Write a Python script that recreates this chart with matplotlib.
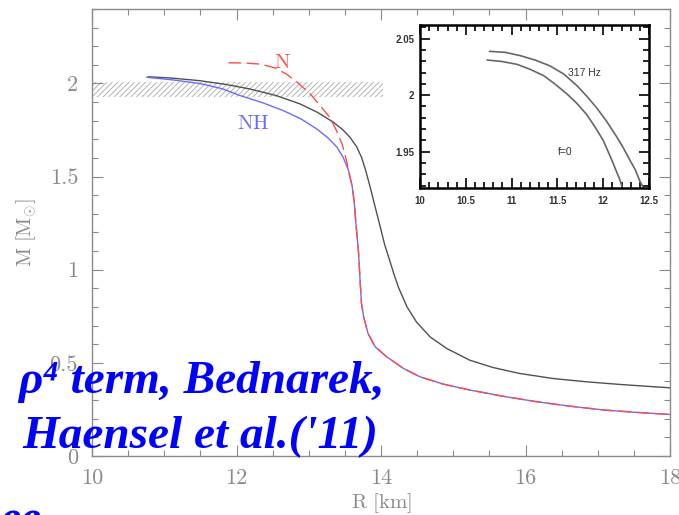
import matplotlib.pyplot as plt
from matplotlib.ticker import MultipleLocator, FormatStrFormatter

plt.rcParams["mathtext.fontset"] = "cm"
plt.rcParams["hatch.linewidth"] = 0.6

# main panel: mass-radius curves
black_r = [10.78, 11.10, 11.49, 11.85, 12.19, 12.55, 12.88, 13.12, 13.34, 13.47, 13.57,
           13.66, 13.73, 13.79, 13.85, 13.92, 13.99, 14.05, 14.12, 14.18, 14.24, 14.36,
           14.49, 14.68, 14.91, 15.23, 15.55, 15.92, 16.38, 16.85, 17.31, 17.65, 18.00]
black_m = [2.036, 2.029, 2.015, 1.995, 1.970, 1.935, 1.890, 1.845, 1.792, 1.752, 1.711,
           1.662, 1.604, 1.530, 1.443, 1.335, 1.229, 1.135, 1.050, 0.975, 0.907, 0.800,
           0.720, 0.639, 0.577, 0.514, 0.475, 0.443, 0.416, 0.398, 0.384, 0.375, 0.366]

nh_r = [10.76, 11.10, 11.49, 11.80, 12.05, 12.35, 12.65, 12.90, 13.11, 13.26, 13.39,
        13.48, 13.55, 13.60, 13.63, 13.65, 13.67, 13.69, 13.71, 13.73, 13.76, 13.82,
        13.92, 14.08, 14.31, 14.54, 14.86, 15.23, 15.70, 16.16, 16.60, 17.08, 17.50, 18.00]
nh_m = [2.033, 2.020, 2.000, 1.972, 1.935, 1.898, 1.854, 1.808, 1.756, 1.710, 1.658,
        1.600, 1.533, 1.450, 1.360, 1.260, 1.175, 1.086, 0.943, 0.818, 0.746, 0.658,
        0.586, 0.532, 0.470, 0.425, 0.386, 0.354, 0.320, 0.291, 0.268, 0.247, 0.235, 0.223]

n_r = [11.89, 12.10, 12.33, 12.52, 12.69, 12.86, 13.02, 13.16, 13.29, 13.38, 13.46,
       13.52, 13.57, 13.60, 13.63, 13.65, 13.67, 13.69, 13.71, 13.73, 13.76, 13.82,
       13.92, 14.08, 14.31, 14.54, 14.86, 15.23, 15.70, 16.16, 16.60, 17.08, 17.50, 18.00]
n_m = [2.111, 2.110, 2.104, 2.085, 2.051, 2.000, 1.944, 1.880, 1.818, 1.750, 1.676,
       1.590, 1.497, 1.450, 1.360, 1.260, 1.175, 1.086, 0.943, 0.818, 0.746, 0.658,
       0.586, 0.532, 0.470, 0.425, 0.386, 0.354, 0.320, 0.291, 0.268, 0.247, 0.235, 0.223]

# observed 1.97 +- 0.04 Msun band
band_lo, band_hi = 1.93, 2.01
band_r = [10.0, 14.03]

# inset: zoom on maximum mass
rot_r = [10.76, 10.93, 11.09, 11.26, 11.42, 11.57, 11.71, 11.82, 11.93, 12.04, 12.15,
         12.22, 12.29, 12.35, 12.40, 12.44]
rot_m = [2.0387, 2.0378, 2.0350, 2.0309, 2.0258, 2.0186, 2.0086, 1.9991, 1.9886, 1.9765,
         1.9628, 1.9533, 1.9427, 1.9340, 1.9240, 1.9180]
static_r = [10.735, 10.89, 11.06, 11.20, 11.35, 11.47, 11.60, 11.71, 11.82, 11.91, 12.00,
            12.09, 12.18, 12.21]
static_m = [2.0310, 2.0298, 2.0272, 2.0229, 2.0172, 2.0100, 2.0014, 1.9929, 1.9828, 1.9719,
            1.9600, 1.9433, 1.9255, 1.9180]

GREY = "#8a8a8a"

fig = plt.figure(figsize=(6.79, 5.15), dpi=100)
ax = fig.add_axes([0.1355, 0.1146, 0.8513, 0.8680])

ax.fill_between(band_r, band_lo, band_hi, facecolor="none", edgecolor="#a8a8a8",
                hatch="//////", linewidth=0)
ax.plot(black_r, black_m, color="#505050", lw=1.0)
ax.plot(nh_r, nh_m, color="#6a6aff", lw=1.0)
ax.plot(n_r, n_m, color="#ff4a4a", lw=1.0, dashes=(9, 4))

ax.text(12.63, 2.113, r"$\mathrm{N}$", color="#ff5050", fontsize=15, ha="center", va="center")
ax.text(12.23, 1.79, r"$\mathrm{NH}$", color="#6a6aff", fontsize=15, ha="center", va="center")

ax.set_xlim(10, 18)
ax.set_ylim(0, 2.4)
ax.xaxis.set_major_locator(MultipleLocator(2))
ax.xaxis.set_minor_locator(MultipleLocator(0.5))
ax.yaxis.set_major_locator(MultipleLocator(0.5))
ax.yaxis.set_minor_locator(MultipleLocator(0.1))
ax.yaxis.set_major_formatter(FormatStrFormatter("%g"))
ax.tick_params(which="both", direction="in", top=True, right=True, colors=GREY,
               width=0.8)
ax.tick_params(which="major", length=8)
ax.tick_params(which="minor", length=4)
ax.tick_params(axis="x", pad=9)
ax.tick_params(axis="y", pad=10)
for lab in ax.get_xticklabels() + ax.get_yticklabels():
    lab.set_fontfamily("cmr10")
    lab.set_fontsize(16)
    lab.set_color(GREY)
for s in ax.spines.values():
    s.set_color(GREY)
    s.set_linewidth(1.0)
ax.set_xlabel(r"$\mathrm{R\ [km]}$", fontsize=15, color=GREY, labelpad=2)
ax.set_ylabel(r"$\mathrm{M\ [M_{\odot}]}$", fontsize=15, color=GREY, labelpad=8)

# inset
ins = fig.add_axes([0.6186, 0.6350, 0.3373, 0.3165])
ins.plot(rot_r, rot_m, color="#666666", lw=1.2)
ins.plot(static_r, static_m, color="#666666", lw=1.2)
ins.text(11.80, 2.0195, "317 Hz", fontsize=7.5, color="#333333", ha="center", va="center",
         fontfamily="Liberation Sans")
ins.text(11.58, 1.950, "f=0", fontsize=7.5, color="#333333", ha="center", va="center",
         fontfamily="Liberation Sans")
ins.set_xlim(10, 12.5)
ins.set_ylim(1.918, 2.062)
ins.xaxis.set_major_locator(MultipleLocator(0.5))
ins.xaxis.set_minor_locator(MultipleLocator(0.1))
ins.yaxis.set_major_locator(MultipleLocator(0.05))
ins.yaxis.set_minor_locator(MultipleLocator(0.01))
ins.xaxis.set_major_formatter(FormatStrFormatter("%g"))
ins.yaxis.set_major_formatter(FormatStrFormatter("%g"))
ins.tick_params(which="both", direction="in", top=True, right=True, colors="black", width=1.2)
ins.tick_params(which="major", length=7)
ins.tick_params(which="minor", length=4)
ins.tick_params(axis="x", pad=6)
ins.tick_params(axis="y", pad=4)
for lab in ins.get_xticklabels() + ins.get_yticklabels():
    lab.set_fontfamily("Liberation Sans")
    lab.set_fontweight("bold")
    lab.set_fontsize(7)
    lab.set_color("#333333")
for s in ins.spines.values():
    s.set_linewidth(1.8)

# slide overlay text
blue_font = dict(color="#0000ff", fontsize=34, fontfamily="Liberation Serif",
                 fontweight="bold", fontstyle="italic")
fig.text(18 / 679, 1 - 393 / 515, "\u03c1\u2074 term, Bednarek,", **blue_font)
fig.text(22 / 679, 1 - 448 / 515, "Haensel et al.('11)", **blue_font)
fig.text(0 / 679, 1 - 532 / 515, "ee", **blue_font)

fig.savefig("out.png", dpi=100)
